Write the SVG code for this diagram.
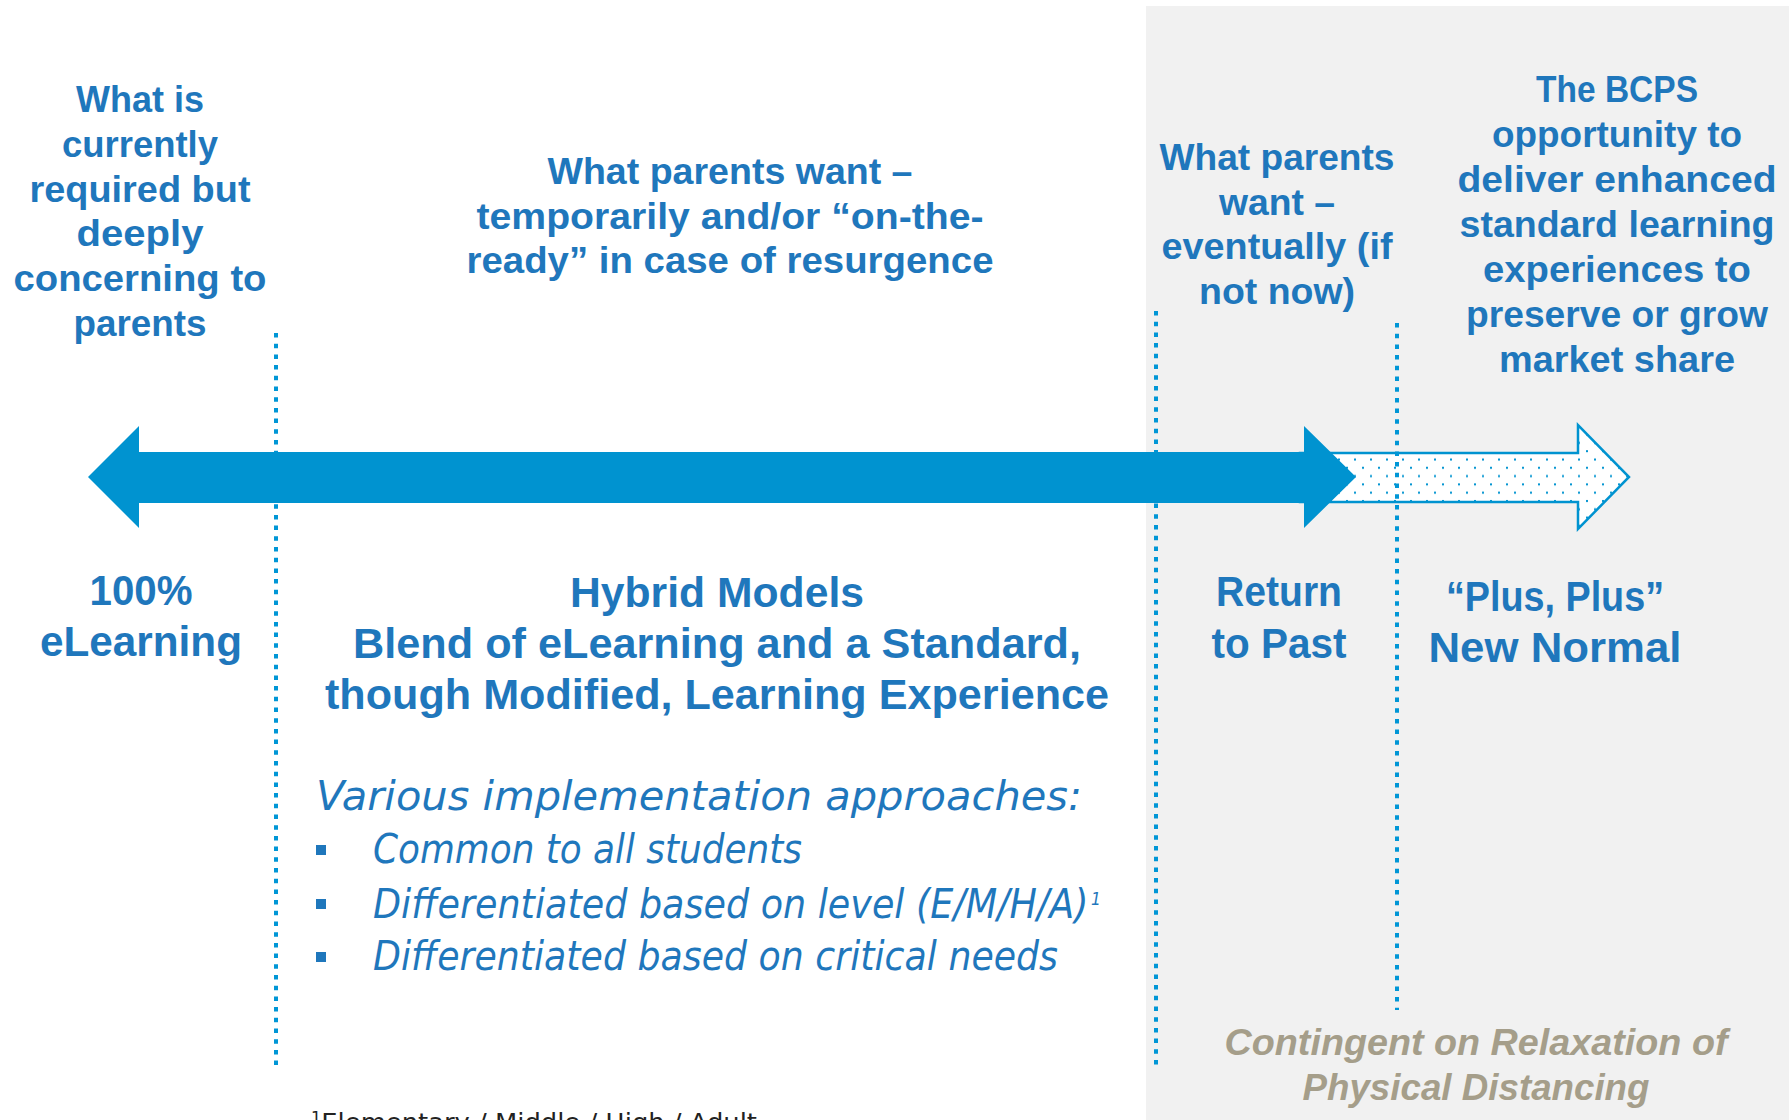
<svg xmlns="http://www.w3.org/2000/svg" width="1789" height="1120" viewBox="0 0 1789 1120">
<style>
.h{font-family:"Liberation Sans",Arial,sans-serif;font-weight:bold;fill:#1F77BC;text-anchor:middle}
.t{font-size:37px}
.b{font-size:42px}
.it{font-family:"DejaVu Sans",sans-serif;font-style:italic;font-size:40px;fill:#1F77BC}
.cg{font-family:"Liberation Sans",Arial,sans-serif;font-weight:bold;font-style:italic;font-size:37px;fill:#A59E8A;text-anchor:middle}
.dot{stroke:#0096D6;stroke-width:4;stroke-dasharray:4.5 6.2;fill:none}
.bul{fill:#1F77BC}
</style>
<defs>
<pattern id="dots" x="0" y="0" width="16" height="16.6" patternUnits="userSpaceOnUse">
<rect x="2" y="2" width="2" height="2" fill="#0093D0"/>
<rect x="10" y="10.3" width="2" height="2" fill="#0093D0"/>
</pattern>
</defs>
<rect width="1789" height="1120" fill="#FFFFFF"/>
<rect id="panel" x="1146" y="6" width="643" height="1114" fill="#F1F1F1"/>
<g id="connectors">
<line class="dot" x1="276" y1="333" x2="276" y2="1067"/>
<line class="dot" x1="1156" y1="311" x2="1156" y2="1067"/>
<g id="future-arrow">
<path d="M1300,453 H1578 V425 L1629,477 L1578,529 V502 H1300 Z" fill="#FFFFFF"/>
<path d="M1300,453 H1578 V425 L1629,477 L1578,529 V502 H1300 Z" fill="url(#dots)" stroke="#0093D0" stroke-width="2.5"/>
</g>
<path id="main-arrow" d="M88,477 L139,426 V452 H1304 V426 L1356,477 L1304,528 V503 H139 V528 Z" fill="#0093D0"/>
<line class="dot" x1="1397" y1="323" x2="1397" y2="1010"/>
</g>
<g id="top-left" class="h t">
<text x="140" y="112" textLength="128" lengthAdjust="spacingAndGlyphs">What is</text>
<text x="140" y="157" textLength="156" lengthAdjust="spacingAndGlyphs">currently</text>
<text x="140" y="202" textLength="221" lengthAdjust="spacingAndGlyphs">required but</text>
<text x="140" y="246" textLength="127" lengthAdjust="spacingAndGlyphs">deeply</text>
<text x="140" y="291" textLength="253" lengthAdjust="spacingAndGlyphs">concerning to</text>
<text x="140" y="336" textLength="133" lengthAdjust="spacingAndGlyphs">parents</text>
</g>
<g id="top-middle" class="h t">
<text x="730" y="184" textLength="365" lengthAdjust="spacingAndGlyphs">What parents want –</text>
<text x="730" y="229" textLength="507" lengthAdjust="spacingAndGlyphs">temporarily and/or “on-the-</text>
<text x="730" y="273" textLength="527" lengthAdjust="spacingAndGlyphs">ready” in case of resurgence</text>
</g>
<g id="top-right1" class="h t">
<text x="1277" y="170" textLength="235" lengthAdjust="spacingAndGlyphs">What parents</text>
<text x="1277" y="215" textLength="116" lengthAdjust="spacingAndGlyphs">want –</text>
<text x="1277" y="259" textLength="231" lengthAdjust="spacingAndGlyphs">eventually (if</text>
<text x="1277" y="304" textLength="156" lengthAdjust="spacingAndGlyphs">not now)</text>
</g>
<g id="top-right2" class="h t">
<text x="1617" y="102" textLength="162" lengthAdjust="spacingAndGlyphs">The BCPS</text>
<text x="1617" y="147" textLength="250" lengthAdjust="spacingAndGlyphs">opportunity to</text>
<text x="1617" y="192" textLength="319" lengthAdjust="spacingAndGlyphs">deliver enhanced</text>
<text x="1617" y="237" textLength="315" lengthAdjust="spacingAndGlyphs">standard learning</text>
<text x="1617" y="282" textLength="268" lengthAdjust="spacingAndGlyphs">experiences to</text>
<text x="1617" y="327" textLength="302" lengthAdjust="spacingAndGlyphs">preserve or grow</text>
<text x="1617" y="372" textLength="236" lengthAdjust="spacingAndGlyphs">market share</text>
</g>
<g id="elearning" class="h b">
<text x="141" y="605" textLength="103" lengthAdjust="spacingAndGlyphs">100%</text>
<text x="141" y="656" textLength="202" lengthAdjust="spacingAndGlyphs">eLearning</text>
</g>
<g id="hybrid" class="h b">
<text x="717" y="607" textLength="294" lengthAdjust="spacingAndGlyphs">Hybrid Models</text>
<text x="717" y="658" textLength="728" lengthAdjust="spacingAndGlyphs">Blend of eLearning and a Standard,</text>
<text x="717" y="709" textLength="784" lengthAdjust="spacingAndGlyphs">though Modified, Learning Experience</text>
</g>
<g id="approaches">
<text class="it" x="316" y="810" textLength="766" lengthAdjust="spacingAndGlyphs">Various implementation approaches:</text>
<rect class="bul" x="316" y="845" width="10" height="10"/>
<rect class="bul" x="316" y="899" width="10" height="10"/>
<rect class="bul" x="316" y="952" width="10" height="10"/>
<text class="it" x="373" y="863" textLength="429" lengthAdjust="spacingAndGlyphs">Common to all students</text>
<text class="it" x="373" y="918" textLength="728" lengthAdjust="spacingAndGlyphs">Differentiated based on level (E/M/H/A)<tspan style="font-size:17px" dx="3" dy="-13">1</tspan></text>
<text class="it" x="373" y="970" textLength="685" lengthAdjust="spacingAndGlyphs">Differentiated based on critical needs</text>
</g>
<g id="return" class="h b">
<text x="1279" y="606" textLength="126" lengthAdjust="spacingAndGlyphs">Return</text>
<text x="1279" y="658" textLength="135" lengthAdjust="spacingAndGlyphs">to Past</text>
</g>
<g id="plusplus" class="h b">
<text x="1555" y="611" textLength="218" lengthAdjust="spacingAndGlyphs">“Plus, Plus”</text>
<text x="1555" y="662" textLength="253" lengthAdjust="spacingAndGlyphs">New Normal</text>
</g>
<g id="contingent" class="cg">
<text x="1476" y="1055" textLength="503" lengthAdjust="spacingAndGlyphs">Contingent on Relaxation of</text>
<text x="1476" y="1100" textLength="347" lengthAdjust="spacingAndGlyphs">Physical Distancing</text>
</g>
<g id="footnote">
<text x="311" y="1131" textLength="446" lengthAdjust="spacingAndGlyphs" style="font-family:'DejaVu Sans',sans-serif;font-size:24px;fill:#222222"><tspan style="font-size:15px" dy="-8">1</tspan><tspan dy="8">Elementary / Middle / High / Adult</tspan></text>
</g>
</svg>
